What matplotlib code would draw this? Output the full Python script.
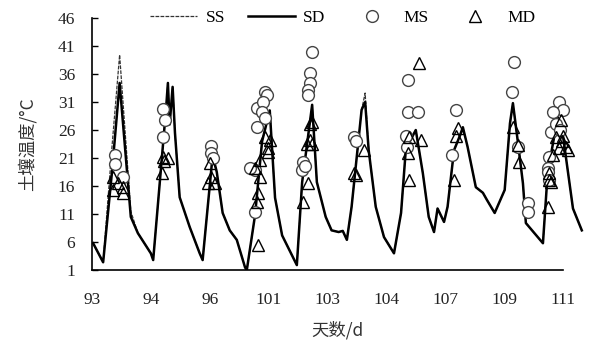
import matplotlib
matplotlib.use("Agg")
import matplotlib.pyplot as plt

# x is measured in tick intervals (0 = "93", 8 = "111")
tick_labels = ['93', '94', '96', '101', '103', '104', '107', '109', '111']

sd_x = [0.02, 0.19, 0.34, 0.47, 0.66, 0.78, 1.00, 1.04, 1.26, 1.29, 1.32, 1.37, 1.41,
        1.49, 1.66, 1.83, 1.88, 2.05, 2.12, 2.22, 2.34, 2.46, 2.60, 2.63, 2.77, 2.89,
        3.02, 3.11, 3.23, 3.48, 3.57, 3.74, 3.82, 3.97, 4.07, 4.19, 4.26, 4.33, 4.41,
        4.58, 4.64, 4.70, 4.82, 4.96, 5.13, 5.25, 5.33, 5.40, 5.50, 5.62, 5.72, 5.81,
        5.87, 5.98, 6.04, 6.15, 6.25, 6.30, 6.38, 6.52, 6.64, 6.71, 6.84, 7.01, 7.10,
        7.15, 7.23, 7.32, 7.37, 7.66, 7.74, 7.91, 8.00, 8.17, 8.32]
sd_y = [5.8, 2.4, 18.5, 34.4, 10.5, 7.6, 4.0, 2.8, 30.0, 34.4, 27.0, 33.7, 25.5,
        14.0, 8.7, 4.0, 2.8, 21.5, 18.5, 11.2, 8.1, 6.4, 1.5, 1.0, 10.8, 24.0,
        29.5, 13.9, 7.2, 1.9, 16.7, 30.5, 16.7, 10.5, 8.1, 7.8, 8.0, 6.4, 12.3,
        29.6, 31.0, 22.4, 12.3, 6.9, 4.0, 11.2, 22.4, 24.0, 26.0, 18.3, 10.5, 7.8,
        12.0, 9.6, 12.3, 22.4, 25.0, 26.5, 23.0, 15.8, 14.8, 13.5, 11.2, 15.3, 27.2,
        30.8, 24.2, 16.5, 9.4, 5.8, 18.3, 28.3, 25.0, 12.0, 8.1]
ss_y = [5.8, 2.4, 23.0, 39.4, 11.5, 7.6, 4.0, 2.8, 30.0, 34.6, 27.0, 33.7, 25.5,
        14.0, 8.7, 4.0, 2.8, 21.5, 18.5, 11.2, 8.1, 6.4, 1.5, 1.0, 10.8, 24.0,
        29.5, 13.9, 7.2, 1.9, 16.7, 30.5, 16.7, 10.5, 8.1, 7.8, 8.0, 6.4, 12.3,
        29.6, 32.6, 22.4, 12.3, 6.9, 4.0, 11.2, 22.4, 24.0, 26.0, 18.3, 10.5, 7.8,
        12.0, 9.6, 12.3, 22.4, 25.0, 26.5, 23.0, 15.8, 14.8, 13.5, 11.2, 15.3, 27.2,
        30.8, 24.2, 16.5, 9.4, 5.8, 18.3, 28.3, 25.0, 12.0, 8.1]

ms_x = [0.39, 0.39, 0.53,
        1.21, 1.24, 1.21,
        2.03, 2.02, 2.05,
        2.94, 2.97, 2.80, 2.90, 2.89, 2.94, 2.80, 2.77, 2.68, 2.77,
        3.73, 3.70, 3.70, 3.67, 3.67, 3.58, 3.57, 3.62,
        4.45, 4.48,
        5.36, 5.36, 5.53, 5.33, 5.35,
        6.18, 6.12,
        7.17, 7.13, 7.23, 7.40, 7.40,
        7.94, 8.00, 7.83, 7.79, 7.77, 7.74, 7.74, 7.76, 7.88, 7.95]
ms_y = [21.5, 19.9, 17.6,
        29.8, 27.8, 24.8,
        23.1, 21.9, 21.0,
        32.8, 32.2, 29.9, 31.0, 29.2, 28.1, 26.5, 18.9, 19.2, 11.4,
        40.0, 36.2, 34.4, 33.1, 32.2, 20.3, 18.9, 19.6,
        24.8, 24.0,
        35.0, 29.2, 29.2, 25.0, 23.0,
        29.6, 21.5,
        38.2, 32.8, 23.0, 13.0, 11.4,
        31.0, 29.6, 29.2, 25.6, 21.2, 19.2, 18.5, 17.0, 27.0, 26.0]

md_x = [0.36, 0.36, 0.53, 0.53, 0.44,
        1.21, 1.22, 1.19, 1.29,
        2.00, 2.03, 2.09, 1.97,
        2.94, 2.99, 2.85, 2.77, 2.85, 2.82, 2.80, 2.82, 3.02, 2.99,
        3.74, 3.70, 3.70, 3.74, 3.65, 3.67, 3.58,
        4.45, 4.48, 4.62,
        5.55, 5.38, 5.59, 5.36, 5.38,
        6.21, 6.18, 6.15,
        7.15, 7.23, 7.26,
        7.96, 7.88, 7.98, 8.08, 7.93, 7.83, 7.77, 7.77, 7.79, 7.74, 8.00, 8.05]
md_y = [17.6, 15.3, 15.8, 14.8, 16.5,
        21.2, 20.5, 18.3, 21.0,
        20.1, 17.6, 16.5, 16.5,
        24.8, 22.8, 20.6, 19.2, 17.6, 14.8, 13.2, 5.5, 24.2, 22.0,
        27.4, 27.0, 24.2, 23.5, 23.5, 16.5, 13.2,
        18.3, 18.0, 22.4,
        38.0, 24.8, 24.2, 21.9, 17.1,
        26.3, 25.0, 17.1,
        26.5, 23.3, 20.3,
        27.8, 24.8, 24.0, 22.4, 22.8, 21.5, 18.3, 17.1, 16.7, 12.3, 25.0, 23.0]

serif = ['Liberation Serif', 'DejaVu Serif']
cjk = ['Noto Sans CJK SC', 'DejaVu Sans']

fig = plt.figure(figsize=(6.01, 3.45), dpi=100)
ax = fig.add_axes([0.153, 0.217, 0.818, 0.731])

ax.plot(sd_x, ss_y, color='#333333', lw=0.9, ls=(0, (3, 1)), label='SS', zorder=2)
ax.plot(sd_x, sd_y, color='black', lw=1.8, label='SD', zorder=3)
ax.plot(ms_x, ms_y, 'o', mfc='white', mec='#444444', mew=1.0, ms=8.5, ls='none',
        label='MS', zorder=4)
ax.plot(md_x, md_y, '^', mfc='none', mec='black', mew=1.0, ms=8.5, ls='none',
        label='MD', zorder=5)

ax.set_xlim(0, 8.35)
ax.set_ylim(1, 46)
ax.set_yticks(range(1, 47, 5))
ax.set_xticks(range(len(tick_labels)))
ax.set_xticklabels(tick_labels)
ax.tick_params(axis='y', direction='in', length=4, width=1, pad=12)
ax.tick_params(axis='x', length=0, pad=16)
for lab in ax.get_xticklabels() + ax.get_yticklabels():
    lab.set_family(serif)
    lab.set_fontsize(12.5)
    lab.set_color('#222222')

ax.spines['top'].set_visible(False)
ax.spines['right'].set_visible(False)
ax.spines['bottom'].set_bounds(0, 8)
ax.spines['left'].set_linewidth(1.2)
ax.spines['bottom'].set_linewidth(1.2)

ax.set_ylabel('土壤温度/°C', family=cjk, fontsize=12.5, color='#333333', labelpad=15)
ax.set_xlabel('天数/d', family=cjk, fontsize=12.5, color='#333333', labelpad=9)

leg = ax.legend(loc='center', bbox_to_anchor=(0.51, 1.0), ncol=4, frameon=False,
                prop={'family': serif, 'size': 12.5}, handlelength=2.7,
                columnspacing=1.3, handletextpad=0.5)

fig.savefig('out.png', dpi=100)
